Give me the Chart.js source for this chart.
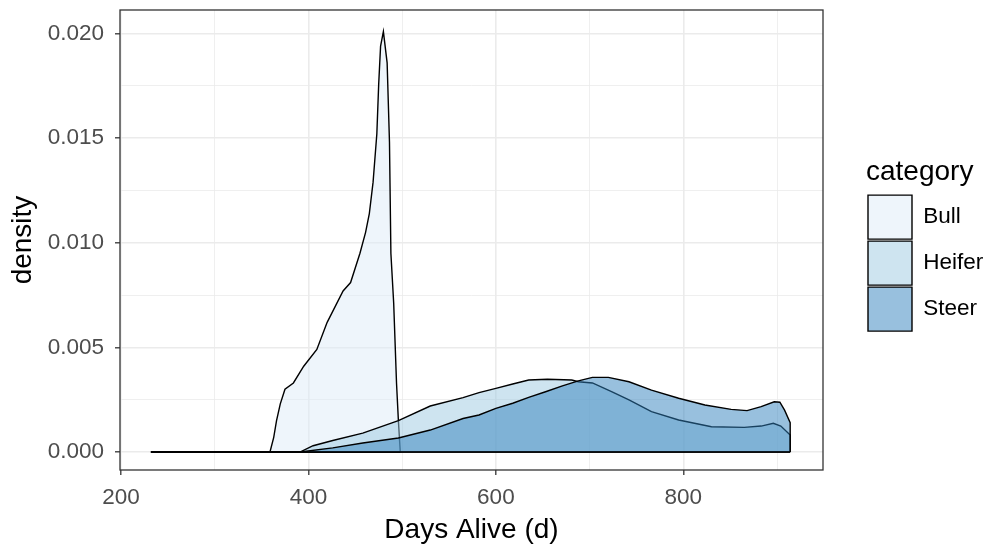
<!DOCTYPE html>
<html>
<head>
<meta charset="utf-8">
<title>Days Alive density by category</title>
<script src="https://cdn.jsdelivr.net/npm/chart.js@4.4.1/dist/chart.umd.min.js"></script>
<style>
  html, body { margin: 0; padding: 0; background: #ffffff; }
  canvas { display: block; }
</style>
</head>
<body>
<canvas id="myChart" width="998" height="550"></canvas>
<script>
// density curves
var categories = ['Bull', 'Heifer', 'Steer'];

var bullDays    = [232, 300, 359, 363, 366, 370, 375, 384, 395, 409, 420, 437, 445, 455, 461, 465, 469, 473, 475, 477, 480, 484, 486.5, 488, 491, 494, 496, 498];
var bullDensity = [0, 0, 0, 0.0007, 0.0015, 0.0023, 0.0030, 0.0033, 0.0041, 0.0049, 0.0062, 0.0077, 0.0081, 0.0095, 0.0105, 0.0114, 0.0129, 0.0152, 0.0176, 0.0194, 0.0201, 0.0186, 0.0148, 0.0095, 0.0071, 0.0033, 0.0015, 0];

var heiferDays    = [232, 391, 405, 426, 458, 496, 530, 565, 582, 600, 618, 635, 655, 681, 688, 703, 724, 742, 766, 795, 830, 865, 883, 896, 904, 914, 914];
var heiferDensity = [0, 0, 0.0003, 0.00055, 0.0009, 0.0015, 0.0022, 0.0026, 0.00284, 0.00304, 0.00325, 0.00344, 0.00348, 0.00344, 0.00336, 0.0033, 0.00288, 0.00249, 0.00193, 0.00153, 0.00121, 0.00118, 0.00124, 0.00137, 0.00124, 0.00081, 0];

var steerDays    = [232, 391, 426, 458, 496, 530, 565, 582, 600, 618, 635, 653, 671, 688, 703, 720, 742, 766, 795, 823, 851, 868, 883, 897, 903, 908, 914, 914];
var steerDensity = [0, 0, 0.0002, 0.00043, 0.00067, 0.00105, 0.0016, 0.00177, 0.00209, 0.00233, 0.00261, 0.00288, 0.00316, 0.0034, 0.00357, 0.00357, 0.00336, 0.00296, 0.00257, 0.00225, 0.00204, 0.00198, 0.00217, 0.0024, 0.00238, 0.002, 0.0014, 0];

var xTickLabels = [200, 400, 600, 800];
var yTickLabels = [0, 0.005, 0.01, 0.015, 0.02];

// Blues palette at alpha 0.5, like the ggplot fill
var fillColors = ['rgba(222,235,247,0.5)', 'rgba(158,202,225,0.5)', 'rgba(49,130,189,0.5)'];

function toPoints(days, dens) {
  return days.map(function (d, i) { return { x: d, y: dens[i] }; });
}

function isMajorX(v) { return xTickLabels.indexOf(v) !== -1; }
function isMajorY(v) {
  return yTickLabels.some(function (t) { return Math.abs(t - v) < 1e-9; });
}

var allDays = [bullDays, heiferDays, steerDays];
var allDens = [bullDensity, heiferDensity, steerDensity];

var datasets = categories.map(function (name, i) {
  return {
    label: name,
    data: toPoints(allDays[i], allDens[i]),
    backgroundColor: fillColors[i],
    borderColor: '#000000',
    borderWidth: 1.4,
    pointRadius: 0,
    tension: 0,
    fill: 'origin',
    order: 3 - i
  };
});

// the zero line under each density polygon
const densityBase = {
  id: 'densityBase',
  afterDatasetDraw(chart, args) {
    const pts = chart.data.datasets[args.index].data;
    const x = chart.scales.x, y = chart.scales.y;
    const ctx = chart.ctx;
    ctx.save();
    ctx.strokeStyle = '#000000';
    ctx.lineWidth = 1.4;
    ctx.beginPath();
    ctx.moveTo(x.getPixelForValue(pts[0].x), y.getPixelForValue(0));
    ctx.lineTo(x.getPixelForValue(pts[pts.length - 1].x), y.getPixelForValue(0));
    ctx.stroke();
    ctx.restore();
  }
};

const panelBorder = {
  id: 'panelBorder',
  afterDatasetsDraw(chart) {
    const a = chart.chartArea, ctx = chart.ctx;
    ctx.save();
    ctx.strokeStyle = '#333333';
    ctx.lineWidth = 1.3;
    ctx.strokeRect(a.left, a.top, a.right - a.left, a.bottom - a.top);
    ctx.restore();
  }
};

// move the legend next to the panel, ggplot style
const legendSpot = {
  id: 'legendSpot',
  afterLayout(chart) {
    const lg = chart.legend;
    const w = lg.width, h = lg.height;
    lg.left = 866; lg.right = 866 + w;
    lg.top = 158; lg.bottom = 158 + h;
  }
};

function noLabelMargins(scale) {
  scale.paddingTop = 0; scale.paddingBottom = 0;
  scale.paddingLeft = 0; scale.paddingRight = 0;
}

var ctx = document.getElementById('myChart');
new Chart(ctx, {
  type: 'line',
  data: { datasets: datasets },
  plugins: [densityBase, panelBorder, legendSpot],
  options: {
    responsive: false,
    animation: false,
    layout: { padding: { top: 10, right: 55, bottom: 0, left: 0 } },
    plugins: {
      tooltip: { enabled: false },
      legend: {
        position: 'right',
        align: 'start',
        maxWidth: 120,
        title: {
          display: true,
          text: 'category',
          position: 'start',
          color: '#000000',
          padding: { top: 0, bottom: 1.5 },
          font: { family: 'Liberation Sans, Arial, sans-serif', size: 28 }
        },
        labels: {
          boxWidth: 44,
          boxHeight: 44,
          padding: 2,
          color: '#000000',
          font: { family: 'Liberation Sans, Arial, sans-serif', size: 22.5 },
          sort: function (a, b) { return a.datasetIndex - b.datasetIndex; }
        }
      }
    },
    scales: {
      x: {
        type: 'linear',
        min: 199,
        max: 949,
        afterFit: function (scale) { scale.height = 80; noLabelMargins(scale); },
        border: { display: false },
        grid: {
          color: '#EBEBEB',
          lineWidth: function (c) { return c.tick && isMajorX(c.tick.value) ? 1.6 : 0.8; },
          tickColor: function (c) { return c.tick && isMajorX(c.tick.value) ? '#333333' : 'rgba(0,0,0,0)'; },
          tickLength: 5,
          tickWidth: 1.3
        },
        ticks: {
          stepSize: 100,
          includeBounds: false,
          autoSkip: false,
          maxRotation: 0,
          padding: 9,
          color: '#4D4D4D',
          font: { family: 'Liberation Sans, Arial, sans-serif', size: 22.5 },
          callback: function (v) { return isMajorX(v) ? String(v) : ''; }
        },
        title: {
          display: true,
          text: 'Days Alive (d)',
          color: '#000000',
          padding: { top: 0, bottom: 3 },
          font: { family: 'Liberation Sans, Arial, sans-serif', size: 28 }
        }
      },
      y: {
        min: -0.00086,
        max: 0.02113,
        afterFit: function (scale) { scale.width = 120; noLabelMargins(scale); },
        border: { display: false },
        grid: {
          color: '#EBEBEB',
          lineWidth: function (c) { return c.tick && isMajorY(c.tick.value) ? 1.6 : 0.8; },
          tickColor: function (c) { return c.tick && isMajorY(c.tick.value) ? '#333333' : 'rgba(0,0,0,0)'; },
          tickLength: 5,
          tickWidth: 1.3
        },
        ticks: {
          stepSize: 0.0025,
          includeBounds: false,
          autoSkip: false,
          padding: 11,
          color: '#4D4D4D',
          font: { family: 'Liberation Sans, Arial, sans-serif', size: 22.5 },
          callback: function (v) { return isMajorY(v) ? (Math.round(v * 1000) / 1000).toFixed(3) : ''; }
        },
        title: {
          display: true,
          text: 'density',
          color: '#000000',
          padding: { top: 6, bottom: 0 },
          font: { family: 'Liberation Sans, Arial, sans-serif', size: 28 }
        }
      }
    }
  }
});
</script>
</body>
</html>
